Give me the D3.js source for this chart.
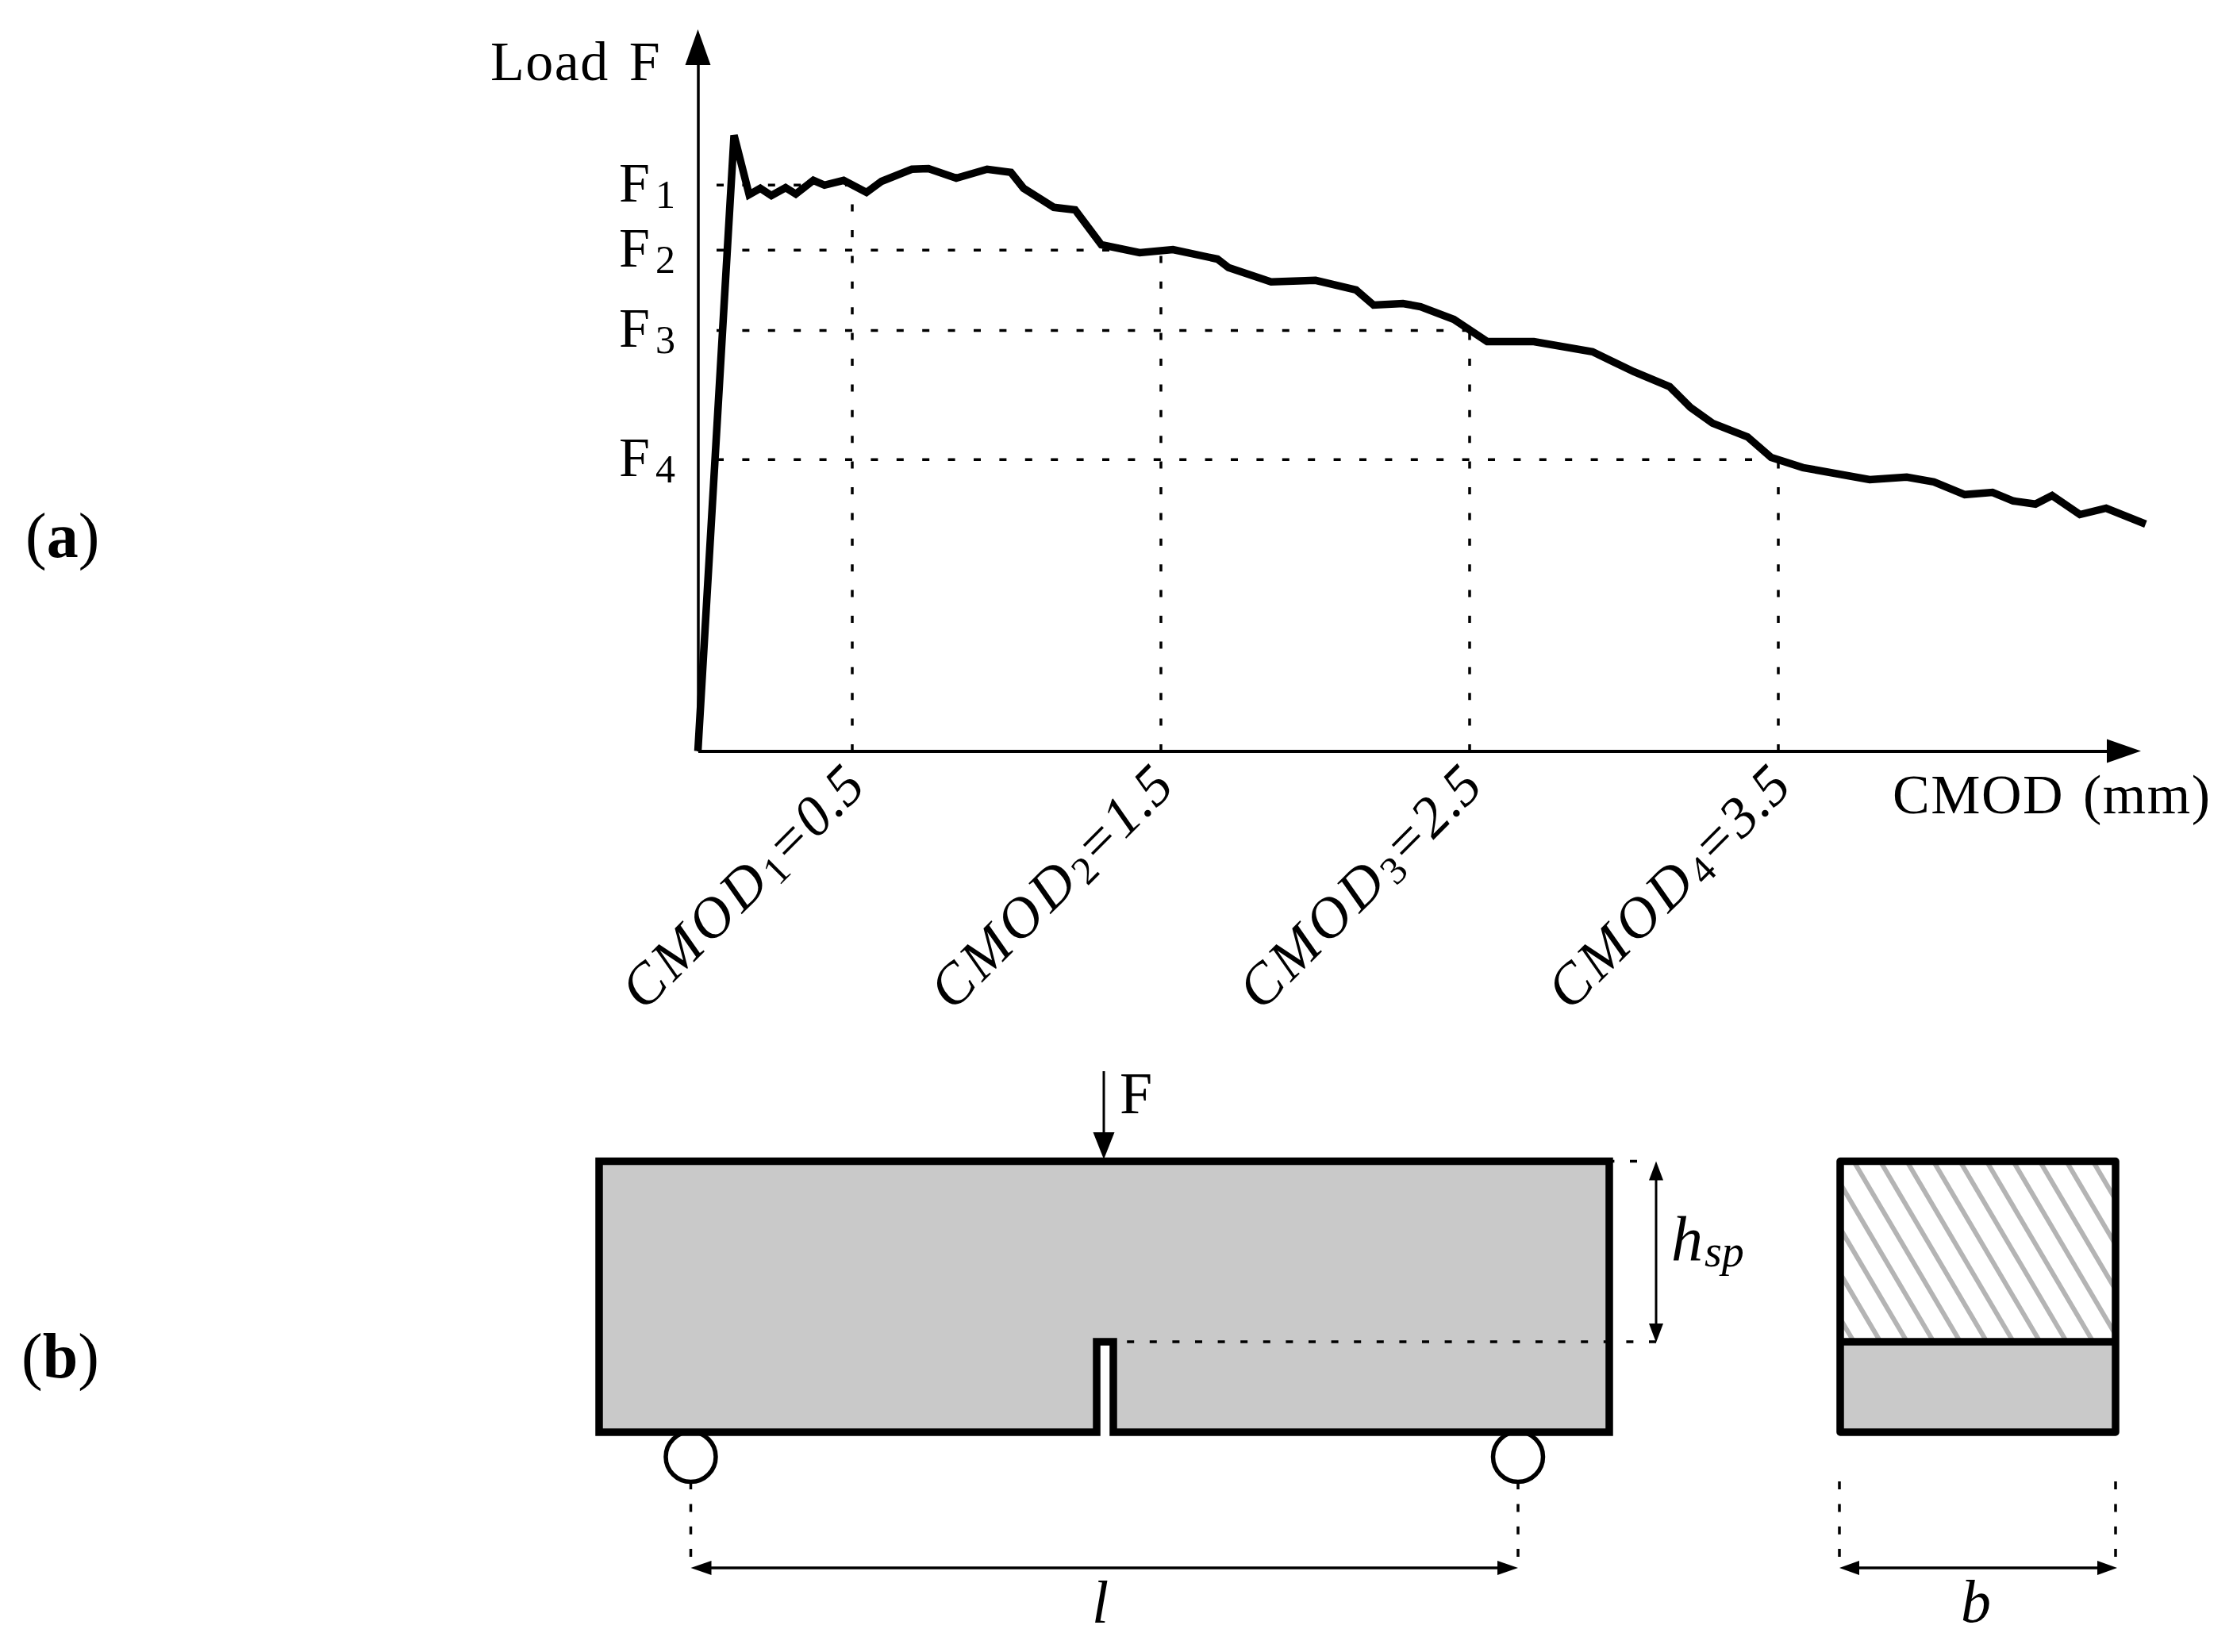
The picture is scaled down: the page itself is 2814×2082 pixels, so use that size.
<!DOCTYPE html>
<html>
<head>
<meta charset="utf-8">
<script src="https://cdn.jsdelivr.net/npm/d3@7"></script>
<style>
  body { margin: 0; background: #fff; }
  text { font-family: "Liberation Serif", serif; fill: #000; }
</style>
</head>
<body>
<div id="chart"></div>
<script>
// load / CMOD curve (load in arbitrary units, the figure has no numbers)
const cmodValues = [0, 0.117, 0.166, 0.202, 0.238, 0.284, 0.317, 0.374, 0.410, 0.472, 0.546, 0.595, 0.693, 0.747,
    0.837, 0.937, 1.014, 1.055, 1.153, 1.222, 1.307, 1.431, 1.539, 1.683, 1.719, 1.857, 2.001, 2.132, 2.189,
    2.284, 2.341, 2.449, 2.557, 2.708, 2.898, 3.032, 3.148, 3.215, 3.287, 3.400, 3.477, 3.580, 3.796, 3.916,
    4.004, 4.104, 4.194, 4.261, 4.333, 4.387, 4.477, 4.562, 4.690];
const loadValues = [0, 19.40, 17.53, 17.73, 17.50, 17.75, 17.55, 17.98, 17.83, 17.98, 17.60, 17.95, 18.33, 18.35,
    18.05, 18.33, 18.23, 17.73, 17.13, 17.05, 15.95, 15.70, 15.80, 15.50, 15.23, 14.78, 14.83, 14.53, 14.05,
    14.10, 14.00, 13.60, 12.90, 12.90, 12.58, 11.95, 11.48, 10.83, 10.33, 9.90, 9.25, 8.93, 8.55, 8.63,
    8.48, 8.08, 8.15, 7.88, 7.78, 8.05, 7.45, 7.65, 7.15];

const checkCmod = [0.5, 1.5, 2.5, 3.5];
const checkLoad = [17.83, 15.78, 13.25, 9.18];
const checkIndex = ['1', '2', '3', '4'];

const grey = '#c9c9c9';
const hatchGrey = '#b4b4b4';

const svg = d3.select('#chart').append('svg')
    .attr('width', 2814)
    .attr('height', 2082)
    .style('display', 'block');

const x = d3.scaleLinear().domain([0, 4.6]).range([879.5, 2668.9]);
const y = d3.scaleLinear().domain([0, 22]).range([946.5, 66.5]);
const poly = d3.line();

// arrow head with its tip at (tx, ty), pointing along (dx, dy)
function arrowHead(parent, tx, ty, dx, dy, len, half) {
    parent.append('path')
        .attr('d', poly([
            [tx, ty],
            [tx - dx * len - dy * half, ty - dy * len + dx * half],
            [tx - dx * len + dy * half, ty - dy * len - dx * half]
        ]) + 'Z')
        .attr('fill', '#000');
}

function dashed(parent, points, width, dash) {
    parent.append('path')
        .attr('d', poly(points))
        .attr('fill', 'none')
        .attr('stroke', '#000')
        .attr('stroke-width', width)
        .attr('stroke-dasharray', dash);
}

function solid(parent, points, width) {
    parent.append('path')
        .attr('d', poly(points))
        .attr('fill', 'none')
        .attr('stroke', '#000')
        .attr('stroke-width', width);
}

// ---- (a) load curve ----
const top_ = svg.append('g');

top_.selectAll('.vdots')
    .data(checkCmod)
    .enter().append('path')
    .attr('class', 'vdots')
    .attr('d', (d, i) => poly([[x(d), 947], [x(d), y(checkLoad[i])]]))
    .attr('stroke', '#000')
    .attr('stroke-width', 3.5)
    .attr('stroke-dasharray', '9 23.4');

top_.selectAll('.hdots')
    .data(checkLoad)
    .enter().append('path')
    .attr('class', 'hdots')
    .attr('d', (d, i) => poly([[903, y(d)], [x(checkCmod[i]), y(d)]]))
    .attr('stroke', '#000')
    .attr('stroke-width', 3.5)
    .attr('stroke-dasharray', '9 23.4');

const xAxis = d3.axisBottom(x).tickValues(checkCmod).tickSize(0).tickFormat('');
const yAxis = d3.axisLeft(y).tickValues(checkLoad).tickSize(0).tickFormat('');

top_.append('g')
    .attr('transform', 'translate(0,946.5)')
    .call(xAxis)
    .select('.domain').attr('stroke', '#000').attr('stroke-width', 4);
top_.append('g')
    .attr('transform', 'translate(879.5,0)')
    .call(yAxis)
    .select('.domain').attr('stroke', '#000').attr('stroke-width', 3.5);

arrowHead(top_, 879.5, 37, 0, -1, 45, 16);
arrowHead(top_, 2698, 946.5, 1, 0, 43, 15);

top_.append('path')
    .datum(cmodValues.map((d, i) => [d, loadValues[i]]))
    .attr('d', d3.line().x(d => x(d[0])).y(d => y(d[1])))
    .attr('fill', 'none')
    .attr('stroke', '#000')
    .attr('stroke-width', 9.5)
    .attr('stroke-miterlimit', 4);

top_.append('text')
    .attr('x', 618).attr('y', 101)
    .attr('font-size', 70)
    .attr('letter-spacing', 1.5)
    .attr('word-spacing', 6)
    .text('Load F');

const fLabels = top_.selectAll('.flabel')
    .data(checkLoad)
    .enter().append('text')
    .attr('class', 'flabel')
    .attr('x', 780)
    .attr('y', d => y(d) + 20.5)
    .attr('font-size', 70);
fLabels.append('tspan').text('F');
fLabels.append('tspan')
    .attr('dx', 7).attr('dy', 8)
    .attr('font-size', 50)
    .text((d, i) => checkIndex[i]);

const cmodLabels = top_.selectAll('.cmodlabel')
    .data(checkCmod)
    .enter().append('text')
    .attr('class', 'cmodlabel')
    .attr('text-anchor', 'end')
    .attr('transform', d => `translate(${x(d) + 20},993) rotate(-45)`)
    .attr('font-size', 72)
    .attr('font-style', 'italic');
cmodLabels.append('tspan').attr('letter-spacing', 5).text('CMOD');
cmodLabels.append('tspan')
    .attr('dy', 8).attr('font-size', 50).attr('font-style', 'normal')
    .text((d, i) => checkIndex[i]);
cmodLabels.append('tspan')
    .attr('dy', -8).attr('letter-spacing', 1)
    .text(d => '=' + d);

top_.append('text')
    .attr('x', 2385).attr('y', 1025)
    .attr('font-size', 70)
    .attr('letter-spacing', 1.5)
    .attr('word-spacing', 5)
    .text('CMOD (mm)');

// ---- (b) notched beam and section ----
const beam = svg.append('g');

dashed(beam, [[2063, 1463.5], [2026, 1463.5]], 3.5, '9 19.6');

beam.selectAll('.roller')
    .data([870.5, 1913])
    .enter().append('circle')
    .attr('class', 'roller')
    .attr('cx', d => d)
    .attr('cy', 1836)
    .attr('r', 31.5)
    .attr('fill', '#fff')
    .attr('stroke', '#000')
    .attr('stroke-width', 5.5);

beam.append('path')
    .attr('d', poly([[755, 1463.5], [2028, 1463.5], [2028, 1805], [1403, 1805], [1403, 1691],
        [1382, 1691], [1382, 1805], [755, 1805]]) + 'Z')
    .attr('fill', grey)
    .attr('stroke', '#000')
    .attr('stroke-width', 9.5);
// the notch stays open at the bottom edge
beam.append('rect').attr('x', 1387).attr('y', 1780).attr('width', 11).attr('height', 30).attr('fill', '#fff');

// depth of the ligament, drawn over the grey of the beam
dashed(beam, [[2087, 1691], [1403, 1691]], 3.5, '9 19.6');

// section
const section = { left: 2319, right: 2666, top: 1463.5, mid: 1691, bottom: 1805 };
svg.append('clipPath').attr('id', 'hatchClip').append('rect')
    .attr('x', section.left).attr('y', section.top)
    .attr('width', section.right - section.left)
    .attr('height', section.mid - section.top);

beam.append('g')
    .attr('clip-path', 'url(#hatchClip)')
    .selectAll('line')
    .data(d3.range(-11, 12))
    .enter().append('line')
    .attr('x1', d => 2336 + 33.5 * d)
    .attr('y1', section.top)
    .attr('x2', d => 2336 + 33.5 * d + (section.mid - section.top) * 0.59)
    .attr('y2', section.mid)
    .attr('stroke', hatchGrey)
    .attr('stroke-width', 6);

beam.append('rect')
    .attr('x', section.left).attr('y', section.mid)
    .attr('width', section.right - section.left)
    .attr('height', section.bottom - section.mid)
    .attr('fill', grey);
beam.append('path')
    .attr('d', poly([[section.left, section.top], [section.right, section.top], [section.right, section.bottom],
        [section.left, section.bottom]]) + 'Z')
    .attr('fill', 'none')
    .attr('stroke', '#000')
    .attr('stroke-width', 9.5)
    .attr('stroke-linejoin', 'round');
solid(beam, [[section.left, section.mid], [section.right, section.mid]], 9.5);

// load arrow
solid(beam, [[1391, 1350], [1391, 1430]], 3);
arrowHead(beam, 1391, 1461, 0, 1, 34, 13.5);

// dimension lines
solid(beam, [[2087, 1480], [2087, 1675]], 3);
arrowHead(beam, 2087, 1463.5, 0, -1, 24, 9);
arrowHead(beam, 2087, 1692, 0, 1, 24, 9);

[870.5, 1913, 2318, 2666].forEach(d => {
    dashed(beam, [[d, 1962], [d, 1867]], 3.5, '10 18.3');
});

solid(beam, [[885, 1976], [1900, 1976]], 3.5);
arrowHead(beam, 870.5, 1976, -1, 0, 26, 9);
arrowHead(beam, 1913, 1976, 1, 0, 26, 9);

solid(beam, [[2330, 1976], [2655, 1976]], 3.5);
arrowHead(beam, 2318, 1976, -1, 0, 25, 9);
arrowHead(beam, 2668, 1976, 1, 0, 25, 9);

beam.append('text').attr('x', 1411).attr('y', 1403).attr('font-size', 74).text('F');

const hsp = beam.append('text').attr('x', 2106).attr('y', 1588).attr('font-size', 80).attr('font-style', 'italic');
hsp.append('tspan').text('h');
hsp.append('tspan').attr('dy', 8).attr('dx', 2).attr('font-size', 56).text('sp');

beam.append('text').attr('x', 1376).attr('y', 2045).attr('font-size', 76).attr('font-style', 'italic').text('l');
beam.append('text').attr('x', 2471).attr('y', 2044).attr('font-size', 76).attr('font-style', 'italic').text('b');

// panel letters
const panels = svg.selectAll('.panel')
    .data([['a', 702, 32], ['b', 1736, 27]])
    .enter().append('text')
    .attr('class', 'panel')
    .attr('x', d => d[2])
    .attr('y', d => d[1])
    .attr('font-size', 80);
panels.append('tspan').text('(');
panels.append('tspan').attr('font-weight', 'bold').text(d => d[0]);
panels.append('tspan').text(')');
</script>
</body>
</html>
